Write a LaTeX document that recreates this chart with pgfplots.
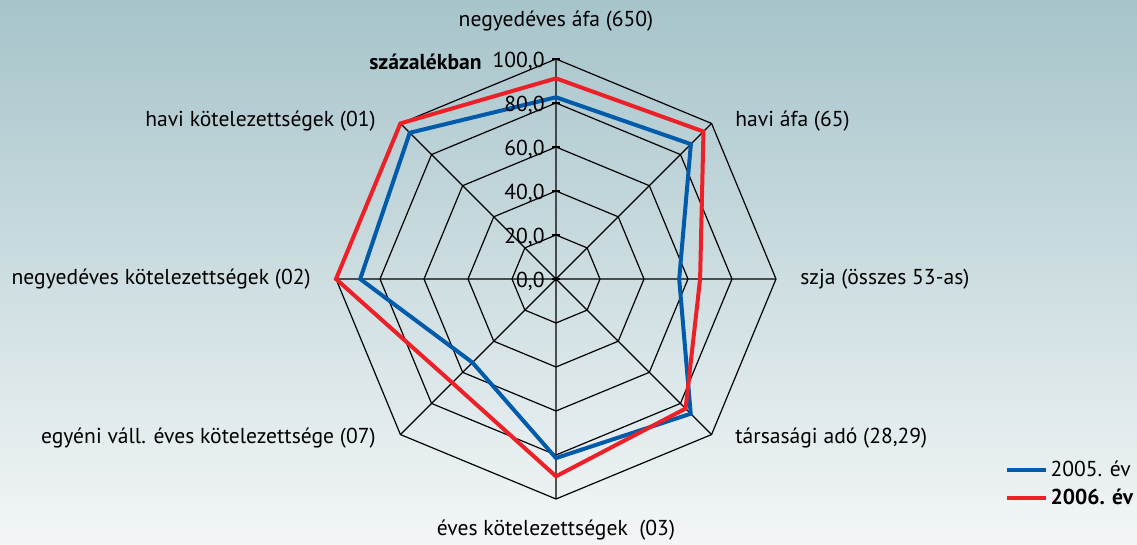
\documentclass[border=0pt]{standalone}
\usepackage{pgfplots}
\pgfplotsset{compat=1.18}
\usepgfplotslibrary{polar}
\usepackage{fontspec}
\setmainfont{PT Sans}
\definecolor{bgtop}{RGB}{166,196,202}
\definecolor{bgbot}{RGB}{243,246,247}
\definecolor{ser05}{RGB}{0,91,170}
\definecolor{ser06}{RGB}{237,32,40}

\begin{document}
\begin{tikzpicture}[font=\fontsize{10.8}{12}\selectfont, lbl/.style={inner sep=0pt}]
\useasboundingbox (0,0) rectangle (568.5pt,-272.5pt);
% background
\shade[top color=bgtop, bottom color=bgbot] (0,0) rectangle (568.5pt,-272.5pt);
\begin{polaraxis}[
    at={(278pt,-139.5pt)}, anchor=center,
    scale only axis, width=220pt, height=220pt,
    hide axis, clip=false,
    ymin=0, ymax=100, xmin=0, xmax=360,
    legend style={at={(1.505,0.034)}, anchor=west, draw=none, fill=none,
                  font=\fontsize{10.8}{12}\selectfont, row sep=2pt,
                  nodes={inner sep=1.5pt}},
    legend cell align=left,
    legend image code/.code={\draw[#1] (0pt,0pt) -- (19.5pt,0pt);},
]
    % rings
    \foreach \r in {20,40,60,80,100} {
        \addplot[black, line width=0.6pt, forget plot]
          coordinates {(0,\r)(45,\r)(90,\r)(135,\r)(180,\r)(225,\r)(270,\r)(315,\r)(360,\r)};
    }
    % spokes
    \addplot[black, line width=0.6pt, forget plot] coordinates {
        (0,100)(0,0)(45,100)(45,0)(90,100)(90,0)(135,100)(135,0)
        (180,100)(180,0)(225,100)(225,0)(270,100)(270,0)(315,100)};
    % ticks on the value axis
    \addplot[black, only marks, mark=-, mark size=1.8pt, forget plot,
             mark options={line width=0.6pt}]
      coordinates {(90,0)(90,20)(90,40)(90,60)(90,80)(90,100)};
    % 2005
    \addplot[ser05, line width=2pt, line join=miter] coordinates {
        (90,82.6)(45,86.7)(0,56.0)(-45,86.6)(-90,81.4)(-135,53.7)(-180,89.0)(-225,94.0)(-270,82.6)};
    \addlegendentry{2005. év}
    % 2006
    \addplot[ser06, line width=2pt, line join=miter] coordinates {
        (90,91.2)(45,94.8)(0,65.5)(-45,83.3)(-90,89.7)(-135,66.7)(-180,100)(-225,100)(-270,91.2)};
    \addlegendentry{\textbf{2006. év}}
    % value labels
    \foreach \v/\t in {0/{0,0},20/{20,0},40/{40,0},60/{60,0},80/{80,0},100/{100,0}} {
        \edef\tmp{\noexpand\node[lbl, anchor=east, xshift=-5.5pt, yshift=-1pt] at (axis cs:90,\v) {\t};}
        \tmp
    }
\end{polaraxis}
% category labels
\node[lbl] at (278pt,-10.5pt) {negyedéves áfa (650)};
\node[lbl, anchor=west] at (367.5pt,-60.5pt) {havi áfa (65)};
\node[lbl, anchor=west] at (400pt,-139.5pt) {szja (összes 53-as)};
\node[lbl, anchor=west] at (367.5pt,-219pt) {társasági adó (28,29)};
\node[lbl] at (278pt,-265pt) {éves kötelezettségek~\ (03)};
\node[lbl, anchor=east] at (188pt,-219pt) {egyéni váll. éves kötelezettsége (07)};
\node[lbl, anchor=east] at (155.5pt,-139.5pt) {negyedéves kötelezettségek (02)};
\node[lbl, anchor=east] at (188pt,-60.5pt) {havi kötelezettségek (01)};
\node[lbl, anchor=east] at (241pt,-31pt) {\textbf{százalékban}};
\end{tikzpicture}
\end{document}
